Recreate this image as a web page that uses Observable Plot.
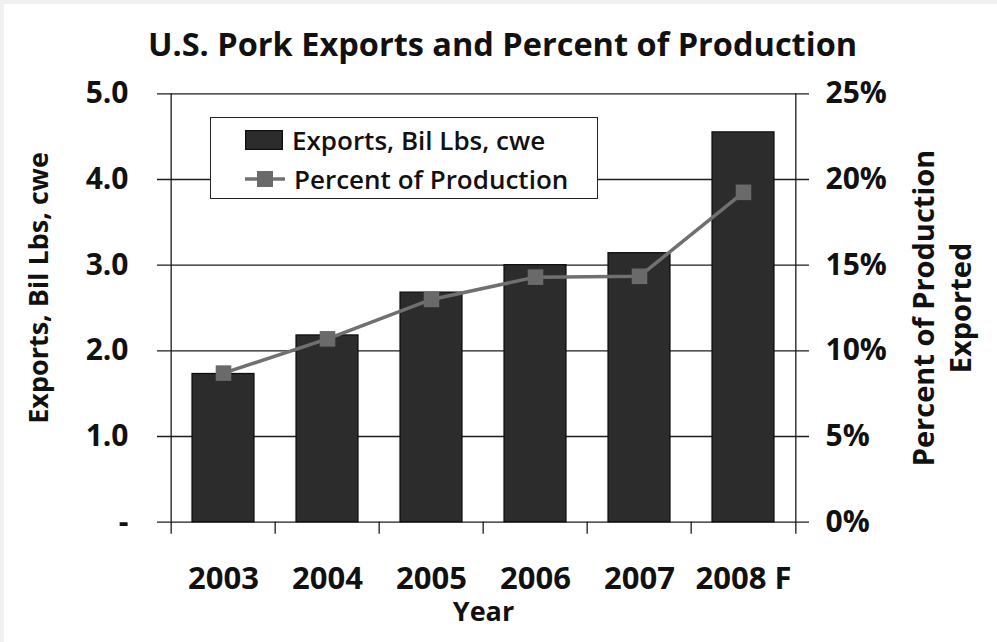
<!DOCTYPE html>
<html>
<head>
<meta charset="utf-8">
<script src="https://cdn.jsdelivr.net/npm/d3@7"></script>
<script src="https://cdn.jsdelivr.net/npm/@observablehq/plot@0.6"></script>
<style>
  html, body { margin: 0; padding: 0; background: #ffffff; }
  #wrap { position: relative; width: 997px; height: 642px; overflow: hidden; background: #fff;
          font-family: "Open Sans", "Noto Sans", sans-serif; }
  #edgeTop { position: absolute; left: 0; top: 0; width: 997px; height: 4px; background: #eef0f2; }
  #edgeLeft { position: absolute; left: 0; top: 0; width: 4px; height: 642px; background: #eef0f2; }
  #title { position: absolute; left: 0; width: 1005px; top: 20px; text-align: center;
           font-size: 32.5px; font-weight: 700; color: #111; line-height: 48px; }
  #chart { position: absolute; left: 0; top: 0; }
  #legend { position: absolute; left: 210px; top: 117px; width: 388px; height: 82px;
            border: 1.6px solid #222; background: #fff; box-sizing: border-box; }
  .lg-item { position: absolute; left: 34px; display: flex; align-items: center;
             font-size: 26px; font-weight: 600; color: #111; white-space: nowrap; }
  .lg-item svg { margin-right: 9px; }
</style>
</head>
<body>
<div id="wrap">
  <div id="edgeTop"></div>
  <div id="edgeLeft"></div>
  <div id="chart"></div>
  <div id="title"></div>
  <div id="legend"></div>
</div>
<script>
// ---- data ----
const titleText = "U.S. Pork Exports and Percent of Production";
const years = ["2003", "2004", "2005", "2006", "2007", "2008 F"];
const exportsBilLbs = [1.73, 2.18, 2.68, 3.00, 3.14, 4.55];
const pctOfProduction = [8.7, 10.7, 13.0, 14.3, 14.35, 19.25];
const leftTicks = [0, 1, 2, 3, 4, 5];
const leftTickLabels = ["-", "1.0", "2.0", "3.0", "4.0", "5.0"];
const rightTicks = [0, 5, 10, 15, 20, 25];
const rightTickLabels = ["0%", "5%", "10%", "15%", "20%", "25%"];
const seriesNames = ["Exports, Bil Lbs, cwe", "Percent of Production"];
const leftAxisTitle = "Exports, Bil Lbs, cwe";
const rightAxisTitle = "Percent of Production\nExported";
const xAxisTitle = "Year";

const data = years.map((year, i) => ({year, exports: exportsBilLbs[i], pct: pctOfProduction[i]}));
const pctMax = 25, expMax = 5;
const toLeft = p => p * expMax / pctMax;

const W = 997, H = 642;
const mL = 169, mR = 200, mT = 93.3, mB = 120.3;
const bw = (W - mL - mR) / years.length;

const barColor = "#2c2c2c";
const lineColor = "#707070";
const markColor = "#6a6a6a";
const gridColor = "#1c1c1c";
const font = "'Open Sans', 'Noto Sans', sans-serif";

const chart = Plot.plot({
  width: W, height: H,
  marginLeft: mL, marginRight: mR, marginTop: mT, marginBottom: mB,
  style: {fontFamily: font, background: "transparent", color: "#111", overflow: "visible"},
  x: {type: "band", domain: years, padding: 0, axis: null},
  y: {domain: [0, expMax], axis: null},
  marks: [
    // horizontal gridlines, extended outward as tick marks on both sides
    Plot.ruleY(leftTicks, {stroke: gridColor, strokeWidth: 1.3, insetLeft: -12, insetRight: -12}),
    // left and right axis lines, extended below the baseline
    Plot.ruleX([years[0]], {x: d => d, dx: -bw / 2, stroke: gridColor, strokeWidth: 1.3, insetBottom: -12}),
    Plot.ruleX([years[years.length - 1]], {x: d => d, dx: bw / 2, stroke: gridColor, strokeWidth: 1.3, insetBottom: -12}),
    // category boundary ticks below the baseline
    Plot.ruleX(years.slice(1), {x: d => d, dx: -bw / 2, y1: () => 0, y2: () => 0, stroke: gridColor, strokeWidth: 1.3, insetBottom: -12}),
    // bars
    Plot.barY(data, {x: "year", y: "exports", fill: barColor, stroke: "#0c0c0c", strokeWidth: 1.2, insetLeft: 21, insetRight: 21}),
    // percent line on secondary axis
    Plot.line(data, {x: "year", y: d => toLeft(d.pct), stroke: lineColor, strokeWidth: 3.5}),
    Plot.dot(data, {x: "year", y: d => toLeft(d.pct), symbol: "square", r: 8.8, fill: markColor, stroke: "none"}),
    // left axis labels
    Plot.axisY({anchor: "left", ticks: leftTicks, tickSize: 0, tickPadding: 41,
      tickFormat: d => leftTickLabels[leftTicks.indexOf(d)], fontSize: 30, fontWeight: 700, label: null}),
    // right axis labels
    Plot.axisY({anchor: "right", ticks: rightTicks.map(toLeft), tickSize: 0, tickPadding: 28,
      tickFormat: d => rightTickLabels[rightTicks.map(toLeft).indexOf(d)], fontSize: 30, fontWeight: 700, label: null}),
    // x axis labels
    Plot.axisX({tickSize: 0, tickPadding: 45, fontSize: 31, fontWeight: 700, label: null}),
    // axis titles
    Plot.text([xAxisTitle], {frameAnchor: "bottom", dy: 90, fontSize: 27, fontWeight: 700, fill: "#111", lineAnchor: "middle"}),
    Plot.text([leftAxisTitle], {frameAnchor: "left", dx: -130, dy: -20, rotate: -90, textAnchor: "middle", fontSize: 27, fontWeight: 700, fill: "#111", lineAnchor: "middle"}),
    Plot.text([rightAxisTitle], {frameAnchor: "right", dx: 143, rotate: -90, textAnchor: "middle", fontSize: 29, fontWeight: 700, fill: "#111", lineAnchor: "middle", lineHeight: 37 / 29})
  ]
});
document.getElementById("chart").appendChild(chart);
document.getElementById("title").textContent = titleText;

// legend
const legend = document.getElementById("legend");
const item1 = document.createElement("div");
item1.className = "lg-item";
item1.style.top = "4px";
item1.innerHTML = `<svg width="38" height="20"><rect x="0.6" y="0.6" width="36.8" height="18.8" fill="${barColor}" stroke="#0c0c0c" stroke-width="1.2"/></svg><span>${seriesNames[0]}</span>`;
const item2 = document.createElement("div");
item2.className = "lg-item";
item2.style.top = "43px";
item2.innerHTML = `<svg width="40" height="20"><line x1="0" y1="10" x2="40" y2="10" stroke="${lineColor}" stroke-width="3.5"/><rect x="12" y="2" width="16" height="16" fill="${markColor}"/></svg><span>${seriesNames[1]}</span>`;
legend.appendChild(item1);
legend.appendChild(item2);
</script>
</body>
</html>
